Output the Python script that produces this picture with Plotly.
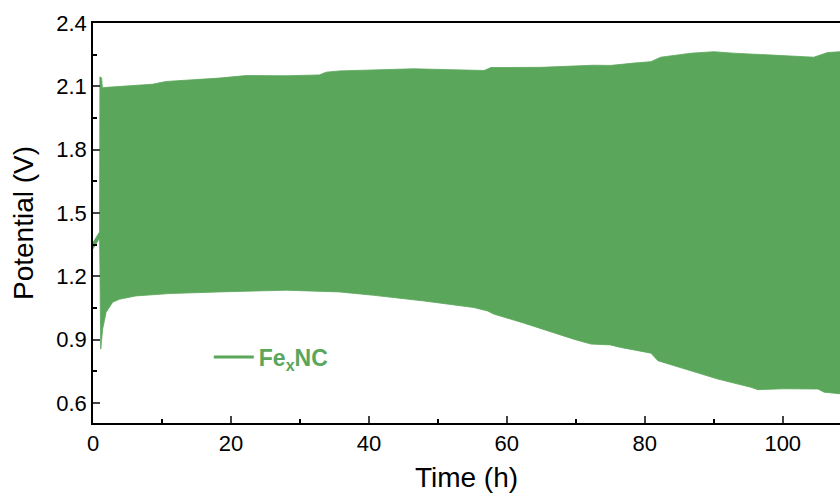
import plotly.graph_objects as go

# Upper envelope of the charge/discharge potential (V) vs time (h)
upper_time = [0, 0.5, 0.95, 1.0, 1.25, 1.35, 1.5, 8.6, 10.6, 18.3, 22.2, 28, 32.8, 33.8, 35.7,
              46.5, 56.7, 57.7, 64.9, 72.6, 75, 78.4, 80.9, 82.3, 86.7, 90, 92.9, 97.8,
              104.5, 106.5, 108.4]
upper_potential = [1.36, 1.39, 1.41, 2.145, 2.14, 2.095, 2.094, 2.11, 2.123, 2.139, 2.151, 2.15,
                   2.154, 2.167, 2.173, 2.183, 2.175, 2.189, 2.19, 2.2, 2.199, 2.21, 2.217,
                   2.238, 2.257, 2.264, 2.257, 2.249, 2.238, 2.26, 2.264]

# Lower envelope
lower_time = [0, 0.5, 0.95, 1.0, 1.12, 1.4, 1.9, 2.85, 3.8, 6.2, 11, 18.3, 28, 35.7, 40.7, 48,
              55.2, 57.2, 58.1, 62.5, 67.4, 69.7, 72.2, 75, 76.5, 80.9, 81.9, 85.7, 90.6,
              95.4, 96.4, 100.1, 105.1, 106, 108.4]
lower_potential = [1.33, 1.36, 1.38, 1.25, 0.855, 0.95, 1.03, 1.077, 1.091, 1.107, 1.118, 1.126,
                   1.134, 1.126, 1.11, 1.083, 1.052, 1.036, 1.021, 0.978, 0.926, 0.902, 0.879,
                   0.875, 0.863, 0.836, 0.8, 0.761, 0.713, 0.674, 0.663, 0.667, 0.666, 0.651,
                   0.643]

series_name = "<b>Fe<sub>x</sub>NC</b>"
green = "#5AA65B"

x_ticks = [0, 20, 40, 60, 80, 100]
y_ticks = [0.6, 0.9, 1.2, 1.5, 1.8, 2.1, 2.4]

fig = go.Figure()
fig.add_trace(go.Scatter(x=upper_time, y=upper_potential, mode="lines",
                         line=dict(color=green, width=0.8), showlegend=False, hoverinfo="skip"))
fig.add_trace(go.Scatter(x=lower_time, y=lower_potential, mode="lines", fill="tonexty",
                         fillcolor=green, line=dict(color=green, width=0.8),
                         showlegend=False))
fig.add_trace(go.Scatter(x=[None], y=[None], mode="lines", name=series_name,
                         line=dict(color=green, width=3)))

font_family = "Liberation Sans, Arial, sans-serif"
fig.update_layout(
    width=840, height=500,
    margin=dict(l=93, r=0, t=23, b=77),
    plot_bgcolor="white", paper_bgcolor="white",
    font=dict(family=font_family, color="black"),
    legend=dict(x=0.155, y=0.165, xanchor="left", yanchor="middle",
                bgcolor="rgba(0,0,0,0)", font=dict(size=23, color=green, family=font_family),
                itemwidth=40),
    xaxis=dict(range=[0, 108.3], tickvals=x_ticks, ticks="inside", ticklen=7, tickwidth=1.5,
               showline=True, linewidth=1.5, linecolor="black", mirror=True,
               showgrid=False, zeroline=False, tickfont=dict(size=22),
               minor=dict(dtick=10, ticks="inside", ticklen=4, tickwidth=1.5, tickcolor="black"),
               title=dict(text="Time (h)", font=dict(size=28), standoff=12)),
    yaxis=dict(range=[0.505, 2.4], tickvals=y_ticks, tickformat=".1f", ticks="inside",
               ticklen=7, tickwidth=1.5, showline=True, linewidth=1.5, linecolor="black",
               mirror=False, showgrid=False, zeroline=False, tickfont=dict(size=22),
               minor=dict(dtick=0.15, tick0=0.6, ticks="inside", ticklen=4, tickwidth=1.5,
                          tickcolor="black"),
               title=dict(text="Potential (V)", font=dict(size=28), standoff=14)),
)

fig.write_html(
    "out.html",
    config={"displayModeBar": False},
    post_script="document.body.style.margin='0';document.documentElement.style.overflow='hidden';",
)
